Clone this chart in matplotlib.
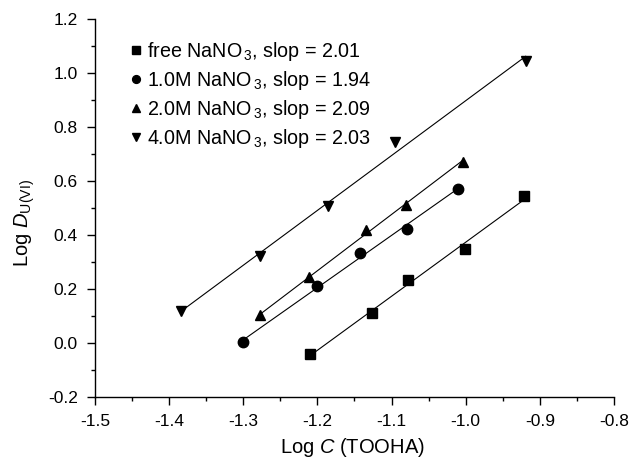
import numpy as np
import matplotlib
matplotlib.use('Agg')
import matplotlib.pyplot as plt

plt.rcParams['font.family'] = ['Liberation Sans', 'DejaVu Sans']
plt.rcParams['mathtext.fontset'] = 'custom'
plt.rcParams['mathtext.rm'] = 'Liberation Sans'
plt.rcParams['mathtext.it'] = 'Liberation Sans:italic'

x_free = [-1.210, -1.126, -1.078, -1.001, -0.921]
y_free = [-0.042, 0.111, 0.233, 0.348, 0.544]
x_1m = [-1.300, -1.201, -1.142, -1.079, -1.011]
y_1m = [0.002, 0.212, 0.334, 0.423, 0.571]
x_2m = [-1.277, -1.211, -1.135, -1.081, -1.004]
y_2m = [0.102, 0.243, 0.420, 0.510, 0.672]
x_4m = [-1.384, -1.277, -1.186, -1.095, -0.919]
y_4m = [0.119, 0.321, 0.509, 0.744, 1.045]

labels = ['free NaNO$_{\\,3}$, slop = 2.01',
          '1.0M NaNO$_{\\,3}$, slop = 1.94',
          '2.0M NaNO$_{\\,3}$, slop = 2.09',
          '4.0M NaNO$_{\\,3}$, slop = 2.03']
marker = ['s', 'o', '^', 'v']

serien = [(x_free, y_free), (x_1m, y_1m), (x_2m, y_2m), (x_4m, y_4m)]

fig = plt.figure(figsize=(6.32, 4.61), dpi=100)
ax = fig.add_axes([0.1503, 0.1388, 0.8212, 0.82])

for (xs, ys), m, lab in zip(serien, marker, labels):
    xs = np.array(xs)
    ys = np.array(ys)
    k, d = np.polyfit(xs, ys, 1)
    xx = np.array([xs.min(), xs.max()])
    ax.plot(xx, k * xx + d, color='black', lw=0.8, zorder=1)
    ax.plot(xs, ys, linestyle='none', marker=m, color='black', ms=7.5,
            label=lab, zorder=2)

ax.set_xlim(-1.5, -0.8)
ax.set_ylim(-0.2, 1.2)
ax.set_xticks(np.arange(-1.5, -0.79, 0.1))
ax.set_xticks(np.arange(-1.45, -0.8, 0.1), minor=True)
ax.set_yticks(np.arange(-0.2, 1.21, 0.2))
ax.set_yticks(np.arange(-0.1, 1.2, 0.2), minor=True)
ax.set_xticklabels(['%.1f' % v for v in np.arange(-1.5, -0.79, 0.1)])
ax.set_yticklabels(['%.1f' % v for v in np.arange(-0.2, 1.21, 0.2)])

for s in ['top', 'right']:
    ax.spines[s].set_visible(False)
for s in ['left', 'bottom']:
    ax.spines[s].set_linewidth(1.0)

ax.tick_params(which='major', direction='out', length=5.5, width=1.0,
               labelsize=12.5, pad=7)
ax.tick_params(which='minor', direction='out', length=3.2, width=1.0)

ax.set_xlabel('Log $\\it{C}$ (TOOHA)', fontsize=14.5)
ax.set_ylabel('Log $\\it{D}$$_{\\rm U(VI)}$', fontsize=14.5)
ax.xaxis.set_label_coords(0.496, -0.104)
ax.yaxis.set_label_coords(-0.112, 0.46)

ax.legend(loc='upper left', frameon=False, fontsize=14.2, handlelength=0.5,
          handletextpad=0.3, labelspacing=0.3, markerscale=0.75,
          borderaxespad=0, bbox_to_anchor=(0.055, 0.965))

fig.savefig('out.png', dpi=100)
